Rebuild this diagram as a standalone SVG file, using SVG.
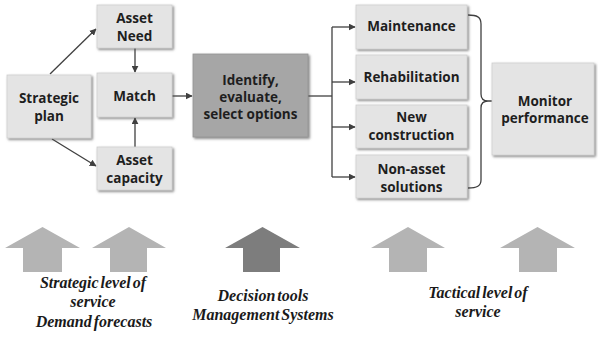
<svg xmlns="http://www.w3.org/2000/svg" width="598" height="338" viewBox="0 0 598 338">
  <defs>
    <filter id="shadow" x="-10%" y="-10%" width="125%" height="130%">
      <feDropShadow dx="1.5" dy="1.5" stdDeviation="0.8" flood-color="#555" flood-opacity="0.7"/>
    </filter>
    <marker id="arrow" viewBox="0 0 10 10" refX="9" refY="5" markerWidth="7" markerHeight="7" markerUnits="userSpaceOnUse" orient="auto">
      <path d="M0,0 L10,5 L0,10 z" fill="#404040"/>
    </marker>
    <style>
      .box { fill: #e4e4e4; stroke: #cfcfcf; stroke-width: 0.8; filter: url(#shadow); }
      .box-dark { fill: #a6a6a6; stroke: #959595; stroke-width: 0.8; filter: url(#shadow); }
      .lbl { font-family: "Open Sans", "Noto Sans", "DejaVu Sans", sans-serif; font-weight: 700; font-size: 13.5px; fill: #1e1e1e; text-anchor: middle; }
      .conn { fill: none; stroke: #404040; stroke-width: 1.3; }
      .up-light { fill: #b4b4b4; }
      .up-dark { fill: #7d7d7d; }
      .note { font-family: "Liberation Serif", "Times New Roman", serif; font-weight: 700; font-style: italic; font-size: 16px; fill: #1a1a1a; text-anchor: middle; word-spacing: -2px; }
    </style>
  </defs>

  <!-- connectors -->
  <g id="connectors">
    <path class="conn" d="M50,74 L96,29" marker-end="url(#arrow)"/>
    <path class="conn" d="M52,139 L96,166" marker-end="url(#arrow)"/>
    <path class="conn" d="M135,48 L135,72" marker-end="url(#arrow)"/>
    <path class="conn" d="M135,147 L135,118" marker-end="url(#arrow)"/>
    <path class="conn" d="M172,96 L192,96" marker-end="url(#arrow)"/>
    <path class="conn" d="M308,96 L332,96"/>
    <path class="conn" d="M332,27 L332,177"/>
    <path class="conn" d="M332,27 L355,27" marker-end="url(#arrow)"/>
    <path class="conn" d="M332,82 L355,82" marker-end="url(#arrow)"/>
    <path class="conn" d="M332,127 L355,127" marker-end="url(#arrow)"/>
    <path class="conn" d="M332,177 L355,177" marker-end="url(#arrow)"/>
    <!-- brace grouping the four options -->
    <path class="conn" d="M468,15 C477,15 481,17 481,24 L481,94 Q481,101 488,101 L502,101 M488,101 Q481,101 481,108 L481,180 C481,186 477,188 468,188"/>
  </g>

  <g id="strategic-plan">
    <rect class="box" x="7" y="75" width="84" height="63"/>
    <text class="lbl" x="49" y="103">Strategic</text>
    <text class="lbl" x="49" y="121">plan</text>
  </g>
  <g id="asset-need">
    <rect class="box" x="97" y="5" width="75" height="43"/>
    <text class="lbl" x="134.5" y="23">Asset</text>
    <text class="lbl" x="134.5" y="41">Need</text>
  </g>
  <g id="match">
    <rect class="box" x="97" y="73" width="75" height="44"/>
    <text class="lbl" x="134.5" y="101">Match</text>
  </g>
  <g id="asset-capacity">
    <rect class="box" x="97" y="147" width="75" height="43"/>
    <text class="lbl" x="134.5" y="165">Asset</text>
    <text class="lbl" x="134.5" y="183">capacity</text>
  </g>
  <g id="identify-options">
    <rect class="box-dark" x="193" y="54" width="115" height="83"/>
    <text class="lbl" x="250.5" y="85">Identify,</text>
    <text class="lbl" x="250.5" y="102">evaluate,</text>
    <text class="lbl" x="250.5" y="119">select options</text>
  </g>
  <g id="maintenance">
    <rect class="box" x="356" y="5" width="111" height="44"/>
    <text class="lbl" x="411.5" y="31">Maintenance</text>
  </g>
  <g id="rehabilitation">
    <rect class="box" x="356" y="55" width="111" height="44"/>
    <text class="lbl" x="411.5" y="82">Rehabilitation</text>
  </g>
  <g id="new-construction">
    <rect class="box" x="356" y="105" width="111" height="43"/>
    <text class="lbl" x="411.5" y="122">New</text>
    <text class="lbl" x="411.5" y="140">construction</text>
  </g>
  <g id="non-asset">
    <rect class="box" x="356" y="155" width="111" height="43"/>
    <text class="lbl" x="411.5" y="174">Non-asset</text>
    <text class="lbl" x="411.5" y="192">solutions</text>
  </g>
  <g id="monitor-performance">
    <rect class="box" x="492" y="63" width="102" height="92"/>
    <text class="lbl" x="545" y="106">Monitor</text>
    <text class="lbl" x="545" y="123">performance</text>
  </g>

  <!-- block arrows along the bottom -->
  <g id="level-arrows">
    <polygon class="up-light" points="5,248 42.5,227 80,248 62,248 62,272 23,272 23,248"/>
    <polygon class="up-light" points="92,248 129,227 166,248 147,248 147,272 110,272 110,248"/>
    <polygon class="up-dark" points="225,248 262.5,227 300,248 280,248 280,272 243,272 243,248"/>
    <polygon class="up-light" points="371,248 408,227 445,248 427,248 427,272 389,272 389,248"/>
    <polygon class="up-light" points="500,248 537.5,227 575,248 557,248 557,272 519,272 519,248"/>
  </g>

  <g id="captions">
    <text class="note" x="93" y="288">Strategic level of</text>
    <text class="note" x="93" y="307">service</text>
    <text class="note" x="94" y="327">Demand forecasts</text>
    <text class="note" x="263" y="301">Decision tools</text>
    <text class="note" x="263" y="320">Management Systems</text>
    <text class="note" x="478" y="298">Tactical level of</text>
    <text class="note" x="478" y="317">service</text>
  </g>
</svg>
